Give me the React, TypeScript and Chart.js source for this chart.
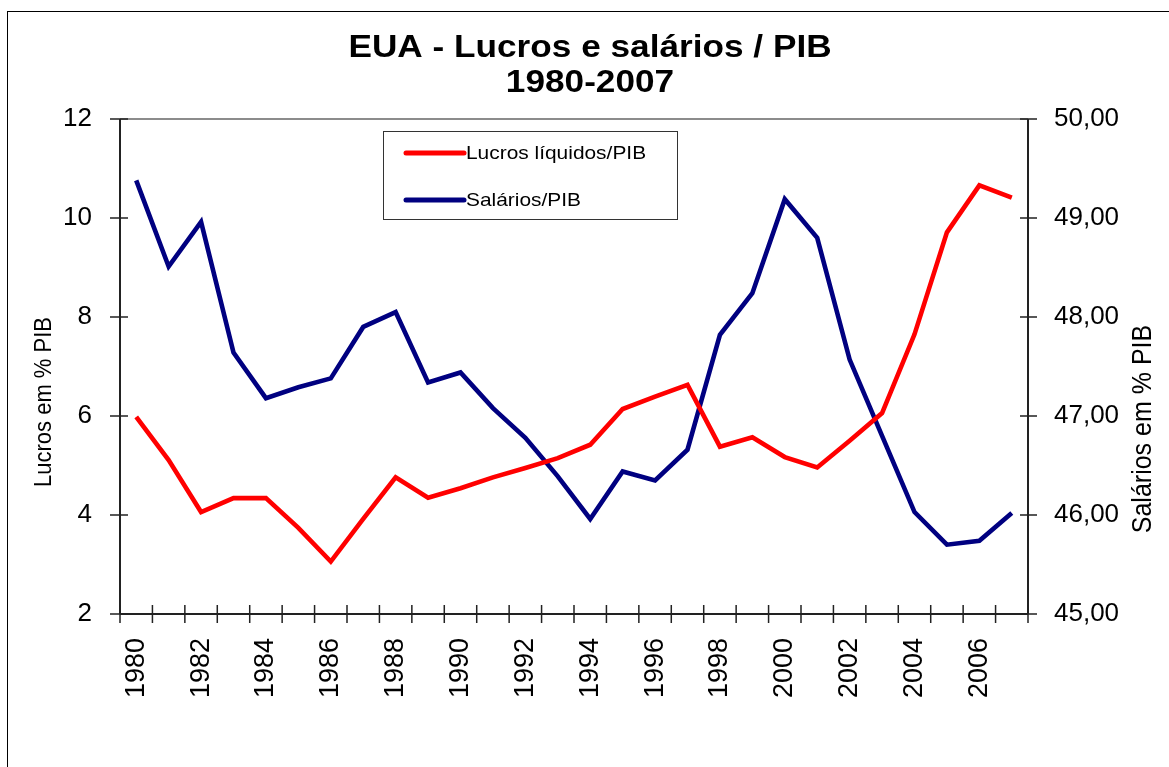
import React, { useEffect, useRef } from "react";
import { Chart, registerables } from "chart.js";

Chart.register(...registerables);

const years = [
  "1980", "1981", "1982", "1983", "1984", "1985", "1986", "1987", "1988", "1989",
  "1990", "1991", "1992", "1993", "1994", "1995", "1996", "1997", "1998", "1999",
  "2000", "2001", "2002", "2003", "2004", "2005", "2006", "2007",
];

const lucros = [
  5.98, 5.11, 4.06, 4.34, 4.34, 3.74, 3.06, 3.92, 4.76, 4.35,
  4.54, 4.76, 4.95, 5.15, 5.42, 6.14, 6.39, 6.63, 5.38, 5.57,
  5.17, 4.96, 5.5, 6.06, 7.65, 9.71, 10.66, 10.41,
];

const salarios = [
  49.38, 48.51, 48.96, 47.64, 47.18, 47.29, 47.38, 47.9, 48.05, 47.34,
  47.44, 47.08, 46.78, 46.39, 45.96, 46.44, 46.35, 46.66, 47.82, 48.24,
  49.19, 48.8, 47.57, 46.8, 46.03, 45.7, 45.74, 46.02,
];

const seriesNames = ["Lucros líquidos/PIB", "Salários/PIB"];
const titleLines = ["EUA - Lucros e salários / PIB", "1980-2007"];
const leftAxisTitle = "Lucros em % PIB";
const rightAxisTitle = "Salários em % PIB";

const FONT = "'Liberation Sans', Arial, Helvetica, sans-serif";
const STRETCH = 1.1;

function stretchedText(ctx: CanvasRenderingContext2D, text: string, x: number, y: number, rotate = false) {
  ctx.save();
  ctx.translate(x, y);
  ctx.scale(STRETCH, 1);
  if (rotate) ctx.rotate(-Math.PI / 2);
  ctx.fillText(text, 0, 0);
  ctx.restore();
}

const decorPlugin = {
  id: "decor",
  beforeDatasetsDraw(chart: any) {
    const { ctx, chartArea: a, scales } = chart;
    const x = scales.x;
    const yl = scales.y;
    const yr = scales.y1;
    ctx.save();
    ctx.strokeStyle = "#8c8c8c";
    ctx.lineWidth = 2;
    ctx.beginPath();
    ctx.moveTo(a.left, a.top);
    ctx.lineTo(a.right, a.top);
    ctx.stroke();

    ctx.strokeStyle = "#222";
    ctx.lineWidth = 2;
    ctx.beginPath();
    ctx.moveTo(a.left, a.top);
    ctx.lineTo(a.left, a.bottom);
    ctx.moveTo(a.right, a.top);
    ctx.lineTo(a.right, a.bottom);
    ctx.moveTo(a.left, a.bottom);
    ctx.lineTo(a.right, a.bottom);
    ctx.stroke();

    ctx.lineWidth = 1.5;
    ctx.beginPath();
    yl.ticks.forEach((t: any) => {
      const py = yl.getPixelForValue(t.value);
      ctx.moveTo(a.left - 10, py);
      ctx.lineTo(a.left + 8, py);
    });
    yr.ticks.forEach((t: any) => {
      const py = yr.getPixelForValue(t.value);
      ctx.moveTo(a.right - 8, py);
      ctx.lineTo(a.right + 9, py);
    });
    const n = chart.data.labels.length;
    for (let i = 0; i <= n; i++) {
      const px = x.left + (i * (x.right - x.left)) / n;
      ctx.moveTo(px, a.bottom - 9);
      ctx.lineTo(px, a.bottom + 9);
    }
    ctx.stroke();
    ctx.restore();
  },
  afterDraw(chart: any) {
    const { ctx } = chart;
    ctx.save();
    ctx.fillStyle = "#000";
    ctx.textAlign = "center";
    ctx.textBaseline = "middle";
    ctx.font = `bold 32px ${FONT}`;
    stretchedText(ctx, titleLines[0], 590, 48);
    stretchedText(ctx, titleLines[1], 590, 83);

    ctx.font = `22px ${FONT}`;
    stretchedText(ctx, leftAxisTitle, 44, 402, true);
    ctx.font = `25px ${FONT}`;
    stretchedText(ctx, rightAxisTitle, 1143, 429, true);

    ctx.strokeStyle = "#333";
    ctx.lineWidth = 1;
    ctx.strokeRect(383.5, 131.5, 294, 88);
    const rows = [153, 200];
    chart.data.datasets.forEach((ds: any, i: number) => {
      const y = rows[i];
      ctx.strokeStyle = ds.borderColor;
      ctx.lineWidth = 5;
      ctx.lineCap = "round";
      ctx.beginPath();
      ctx.moveTo(406, y);
      ctx.lineTo(464, y);
      ctx.stroke();
      ctx.fillStyle = "#000";
      ctx.font = `19px ${FONT}`;
      ctx.textAlign = "left";
      ctx.textBaseline = "middle";
      ctx.save();
      ctx.translate(466, y + 1);
      ctx.scale(STRETCH, 1);
      ctx.fillText(ds.label, 0, 0);
      ctx.restore();
    });
    ctx.restore();
  },
};

export default function App() {
  const ref = useRef<HTMLCanvasElement | null>(null);

  useEffect(() => {
    if (!ref.current) return;
    const chart = new Chart(ref.current, {
      type: "line",
      data: {
        labels: years,
        datasets: [
          {
            label: seriesNames[0],
            data: lucros,
            borderColor: "#ff0000",
            backgroundColor: "#ff0000",
            borderWidth: 4.6,
            pointRadius: 0,
            tension: 0,
            yAxisID: "y",
          },
          {
            label: seriesNames[1],
            data: salarios,
            borderColor: "#000080",
            backgroundColor: "#000080",
            borderWidth: 4.6,
            pointRadius: 0,
            tension: 0,
            yAxisID: "y1",
          },
        ],
      },
      options: {
        responsive: false,
        animation: false,
        devicePixelRatio: 1,
        layout: { padding: { top: 119, left: 0, right: 0, bottom: 0 } },
        plugins: {
          legend: { display: false },
          title: { display: false },
          tooltip: { enabled: false },
        },
        scales: {
          x: {
            type: "category",
            offset: true,
            grid: { display: false, drawTicks: false },
            border: { display: false },
            ticks: {
              autoSkip: false,
              minRotation: 90,
              maxRotation: 90,
              padding: 24,
              color: "#000",
              font: { family: FONT, size: 27 },
              callback: (_v: any, i: number) => (i % 2 === 0 ? years[i] : ""),
            },
            afterFit: (s: any) => {
              s.height = 767 - 614;
            },
          },
          y: {
            type: "linear",
            position: "left",
            min: 2,
            max: 12,
            grid: { display: false, drawTicks: false },
            border: { display: false },
            ticks: {
              stepSize: 2,
              padding: 28,
              color: "#000",
              font: { family: FONT, size: 26 },
            },
            afterFit: (s: any) => {
              s.width = 120;
            },
          },
          y1: {
            type: "linear",
            position: "right",
            min: 45,
            max: 50,
            grid: { display: false, drawTicks: false },
            border: { display: false },
            ticks: {
              stepSize: 1,
              padding: 26,
              color: "#000",
              font: { family: FONT, size: 26 },
              callback: (v: any) => Number(v).toFixed(2).replace(".", ","),
            },
            afterFit: (s: any) => {
              s.width = 1169 - 1028;
            },
          },
        },
      },
      plugins: [decorPlugin],
    });
    return () => chart.destroy();
  }, []);

  return (
    <div
      style={{
        position: "fixed",
        left: 0,
        top: 0,
        width: 1169,
        height: 767,
        overflow: "hidden",
        background: "#fff",
      }}
    >
      <div
        style={{
          position: "absolute",
          left: 7,
          top: 11,
          width: 1300,
          height: 900,
          border: "1px solid #000",
        }}
      />
      <canvas
        ref={ref}
        width={1169}
        height={767}
        style={{ position: "absolute", left: 0, top: 0 }}
      />
    </div>
  );
}
